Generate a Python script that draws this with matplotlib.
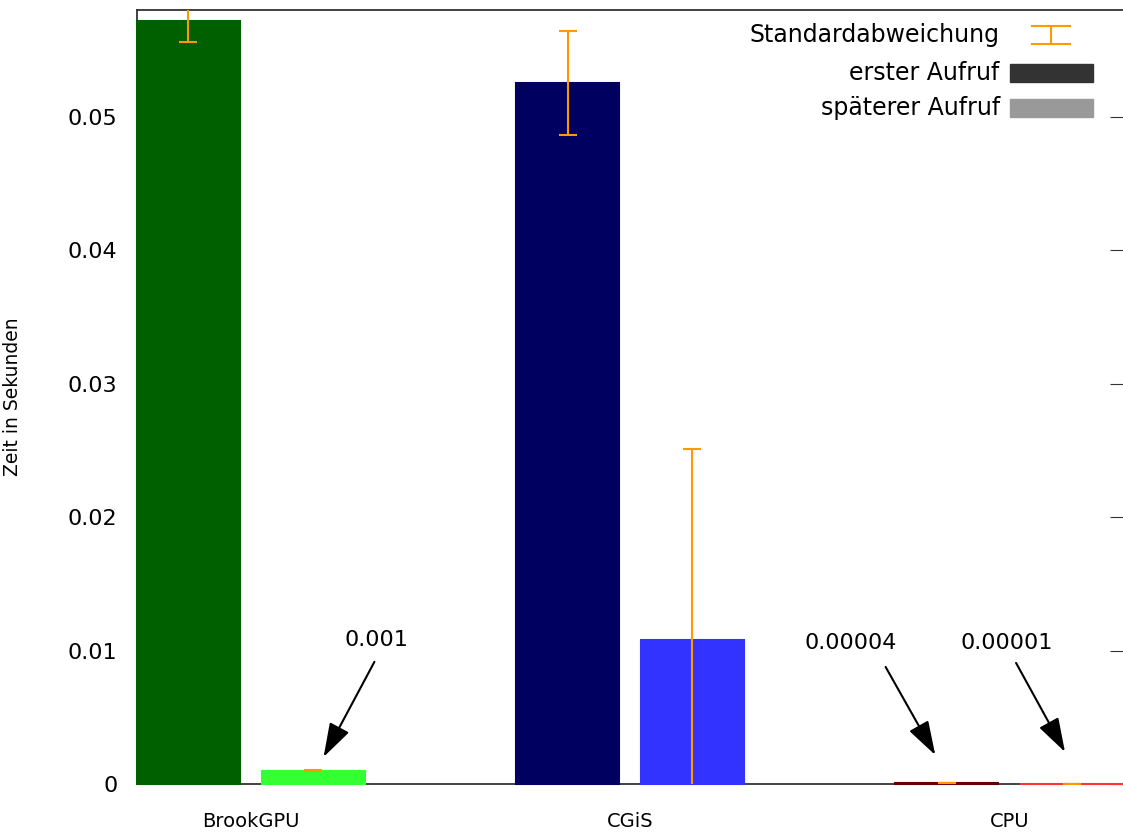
import numpy as np
import matplotlib
matplotlib.use('Agg')
import matplotlib.pyplot as plt
from matplotlib.patches import Rectangle
from matplotlib.lines import Line2D

plt.rcParams['font.family'] = ['DejaVu Sans']

# Daten (Zeit in Sekunden)
gruppen = ['BrookGPU', 'CGiS', 'CPU']
erster_aufruf = [0.0572, 0.05255, 0.00004]
spaeterer_aufruf = [0.001, 0.0108, 0.00001]
std_erster = [0.0016, 0.0039, 0.000002]
std_spaeter = [0.00003, 0.0143, 0.000001]
farben_erster = ['#006000', '#000060', '#600000']
farben_spaeter = ['#33ff33', '#3333ff', '#ff3333']
annotationen = ['0.001', '0.00004', '0.00001']

orange = '#ff9900'
fig = plt.figure(figsize=(11.23, 8.34), dpi=100)
ax = fig.add_axes([0.122, 0.06, 0.878, 0.928])

x = np.arange(len(gruppen))
breite = 0.271
off = 0.1645
err_kw = dict(ecolor=orange, elinewidth=1.5, capsize=6.5, capthick=1.5, zorder=4)
b1 = ax.bar(x - off, erster_aufruf, breite, color=farben_erster, edgecolor=farben_erster,
            linewidth=1.5, zorder=3, yerr=std_erster, error_kw=err_kw)
b2 = ax.bar(x + off, spaeterer_aufruf, breite, color=farben_spaeter, edgecolor=farben_spaeter,
            linewidth=1.5, zorder=3, yerr=std_spaeter, error_kw=err_kw)
# sehr kleine Balken sollen als duenne Linie sichtbar bleiben
for p in list(b1.patches) + list(b2.patches):
    p.set_clip_on(False)

ax.set_xlim(-0.3, 2.3)
ax.set_ylim(0, 0.058)
ax.set_xticks(x)
ax.set_xticklabels(gruppen, fontsize=14)
ax.set_yticks([0, 0.01, 0.02, 0.03, 0.04, 0.05])
ax.set_yticklabels(['0', '0.01', '0.02', '0.03', '0.04', '0.05'], fontsize=16)
ax.tick_params(axis='x', length=0, pad=20)
ax.tick_params(axis='y', left=False, right=True, direction='in', length=9.5,
               width=0.8, color='#333333', pad=14)
ax.set_ylabel('Zeit in Sekunden', fontsize=13.5)
ax.yaxis.set_label_coords(-0.1166, 0.5)

for s in ['left', 'bottom', 'top']:
    ax.spines[s].set_color('#333333')
    ax.spines[s].set_linewidth(1.3)
    ax.spines[s].set_zorder(2)
ax.spines['right'].set_visible(False)

# Pfeile mit Werten fuer kleine Balken
text_pos = [(0.332, 0.0108), (1.582, 0.01057), (1.992, 0.01057)]
pfeil_start = [(0.326, 0.00915), (1.674, 0.00877), (2.018, 0.00907)]
pfeil_ende = [(0.192, 0.00202), (1.805, 0.00217), (2.147, 0.0024)]
for t, tp, ps, pe in zip(annotationen, text_pos, pfeil_start, pfeil_ende):
    ax.text(tp[0], tp[1], t, ha='center', va='center', fontsize=16)
    ax.annotate('', xy=pe, xytext=ps,
                arrowprops=dict(arrowstyle='-|>,head_length=1.4,head_width=0.45',
                                mutation_scale=15, lw=1.5, color='black',
                                shrinkA=0, shrinkB=0))

# Legende (manuell, im Stil von gnuplot)
tr = ax.transAxes
ax.text(0.875, 0.9677, 'Standardabweichung', transform=tr, ha='right',
        va='center', fontsize=17)
ax.text(0.875, 0.9186, 'erster Aufruf', transform=tr, ha='right',
        va='center', fontsize=17)
ax.text(0.875, 0.8734, 'späterer Aufruf', transform=tr, ha='right',
        va='center', fontsize=17)
x0, x1, xm = 0.9077, 0.9462, 0.9270
y0, y1 = 0.9565, 0.9793
for yy in (y0, y1):
    ax.add_line(Line2D([x0, x1], [yy, yy], transform=tr, color=orange, lw=1.5))
ax.add_line(Line2D([xm, xm], [y0, y1], transform=tr, color=orange, lw=1.5))
ax.add_patch(Rectangle((0.8854, 0.9076), 0.0842, 0.022, transform=tr,
                       color='#333333', clip_on=False))
ax.add_patch(Rectangle((0.8854, 0.8624), 0.0842, 0.022, transform=tr,
                       color='#999999', clip_on=False))

fig.savefig('out.png', dpi=100)
